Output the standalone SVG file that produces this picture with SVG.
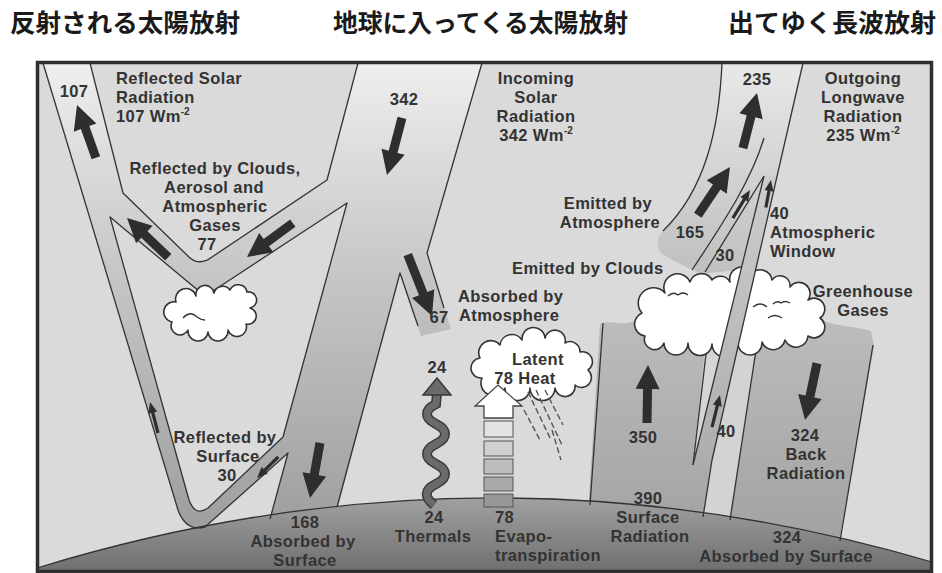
<svg xmlns="http://www.w3.org/2000/svg" width="942" height="573" viewBox="0 0 942 573">
<defs>
  <linearGradient id="gSolar" gradientUnits="userSpaceOnUse" x1="0" y1="64" x2="0" y2="530">
    <stop offset="0" stop-color="#eeeeee"/>
    <stop offset="0.45" stop-color="#c6c6c6"/>
    <stop offset="1" stop-color="#9e9e9e"/>
  </linearGradient>
  <linearGradient id="gOlr" gradientUnits="userSpaceOnUse" x1="0" y1="64" x2="0" y2="270">
    <stop offset="0" stop-color="#e8e8e8"/>
    <stop offset="1" stop-color="#c0c0c0"/>
  </linearGradient>
  <linearGradient id="gWin" gradientUnits="userSpaceOnUse" x1="0" y1="176" x2="0" y2="465">
    <stop offset="0" stop-color="#cdcdcd"/>
    <stop offset="1" stop-color="#adadad"/>
  </linearGradient>
  <linearGradient id="gBlock" gradientUnits="userSpaceOnUse" x1="0" y1="320" x2="0" y2="540">
    <stop offset="0" stop-color="#bcbcbc"/>
    <stop offset="1" stop-color="#a2a2a2"/>
  </linearGradient>
  <linearGradient id="gEarth" gradientUnits="userSpaceOnUse" x1="0" y1="490" x2="0" y2="573">
    <stop offset="0" stop-color="#a6a6a6"/>
    <stop offset="1" stop-color="#6e6e6e"/>
  </linearGradient>
</defs>
<style>
  .edge{fill:none;stroke:#333;stroke-width:1.3;stroke-linejoin:round}
  .arr{fill:#2e2e2e}
  .cloud{fill:#fff;stroke:#333;stroke-width:1.6;stroke-linejoin:round}
  .mark{fill:none;stroke:#333;stroke-width:1.3}
  .lbl{font-family:"Liberation Sans",Arial,sans-serif;font-weight:bold;font-size:16.5px;letter-spacing:0.4px;fill:#333}
  .mid{text-anchor:middle}
  .sup{font-size:10px;letter-spacing:0}
  .ttl{font-family:"Noto Sans CJK JP","Noto Sans CJK SC",sans-serif;font-weight:bold;font-size:25px;fill:#1a1a1a}
  .rain{fill:none;stroke:#555;stroke-width:1.4;stroke-dasharray:6 3}
</style>

<rect width="942" height="573" fill="#fff"/>

<!-- headings -->
<g id="titles">
  <text class="ttl" x="10" y="32" textLength="230" lengthAdjust="spacingAndGlyphs">反射される太陽放射</text>
  <text class="ttl" x="333" y="32" textLength="295" lengthAdjust="spacingAndGlyphs">地球に入ってくる太陽放射</text>
  <text class="ttl" x="728" y="32" textLength="208" lengthAdjust="spacingAndGlyphs">出てゆく長波放射</text>
</g>

<rect id="panel" x="37.5" y="62.5" width="894" height="509" fill="#dadada"/>

<!-- shortwave bands: incoming, reflected, absorbed -->
<g id="solar-bands">
  <path fill="url(#gSolar)" fill-rule="evenodd" d="M43,63 L178,510 Q186,532 205,527 L288,453 L262,548 L327,548 L400,273 L421,336 L451,329 L427,253 L482,63 L358,63 L327,180 L212,257 Q200,266 190,258 L123,193 L90,63 Z M110,217 L194,287 Q204,296 216,289 L347,203 L283,437 L208,508 Q195,517 189,500 Z"/>
</g>

<!-- outgoing longwave band -->
<g id="olr-band">
  <path fill="url(#gOlr)" d="M722,63 L803,63 L756,268 L700,274 C690,268 675,262 662,254 C655,246 657,238 663,231 C705,190 719,130 722,63 Z"/>
</g>

<!-- surface radiation / back radiation block -->
<g id="lw-block">
  <path fill="url(#gBlock)" d="M600,324 C612,319 622,327 634,321 L650,318 L820,320 C840,327 855,326 871,331 L874,346 L838,548 L586,548 Z"/>
  <path fill="#d5d5d5" d="M707,330 L726,330 L693,465 Z"/>
  <path fill="#d3d3d3" d="M742,330 L759,330 L730,520 L703,517 L712,460 Z"/>
</g>

<!-- earth surface -->
<g id="earth">
  <path fill="url(#gEarth)" d="M37,568 Q485,431 932,562 L932,575 L37,575 Z"/>
  <path class="edge" stroke-width="1" d="M37,568 Q485,431 932,562"/>
</g>

<!-- band outlines -->
<g id="outlines">
  <path class="edge" d="M43,63 L178,510 Q186,532 205,527 L288,453 L270,519"/>
  <path class="edge" d="M337,507 L400,273 L418,326"/>
  <path class="edge" d="M444,308 L427,253 L482,63"/>
  <path class="edge" d="M358,63 L327,180 L212,257 Q200,266 190,258 L123,193 L90,63"/>
  <path class="edge" d="M110,217 L194,287 Q204,296 216,289 L347,203 L283,437 L208,508 Q195,517 189,500 Z"/>
  <path class="edge" d="M722,63 C719,130 705,190 663,231"/>
  <path class="edge" d="M764,138 C752,178 728,216 692,270"/>
  <path class="edge" d="M764,176 L705,272"/>
  <path class="edge" d="M758,337 L730,520"/>
  <path class="edge" d="M873,345 L840,541"/>
  <path class="edge" d="M603,323 L590,505"/>
  <path class="edge" d="M708,337 L693,465"/>
</g>

<!-- clouds -->
<g id="cloud-left">
  <path class="cloud" d="M172,322 A9,9 0 0 1 176,302 A10,10 0 0 1 196,296 A9,9 0 0 1 214,293 A9,9 0 0 1 230,290 A9,9 0 0 1 247,292 A8,8 0 0 1 250,308 A8,8 0 0 1 246,324 A9,9 0 0 1 228,330 A10,10 0 0 1 208,332 A10,10 0 0 1 188,330 A8,8 0 0 1 172,322 Z"/>
  <path class="mark" d="M183,318 q7,-8 14,-1 q4,3 8,3"/>
</g>
<g id="cloud-right">
  <path class="cloud" d="M645,336 A12,12 0 0 1 642,313 A14,14 0 0 1 665,293 A13,13 0 0 1 690,282 A12,12 0 0 1 712,280 A11,11 0 0 1 730,282 A12,12 0 0 1 752,273 A12,12 0 0 1 772,280 A10,10 0 0 1 790,287 A10,10 0 0 1 808,300 A10,10 0 0 1 820,318 A10,10 0 0 1 808,336 A12,12 0 0 1 785,340 A12,12 0 0 1 762,342 A12,12 0 0 1 738,344 A12,12 0 0 1 712,344 A12,12 0 0 1 688,343 A12,12 0 0 1 664,343 A10,10 0 0 1 645,336 Z"/>
  <path class="mark" d="M668,296 q5,-5 10,-1 q5,-4 10,0 M753,307 q7,-6 14,0 M773,304 q4,-4 8,-1 q4,-3 9,0 M768,318 q7,-5 14,0"/>
</g>
<g id="cloud-latent">
  <path class="cloud" d="M482,378 A10,10 0 0 1 480,358 A12,12 0 0 1 500,345 A12,12 0 0 1 522,340 A11,11 0 0 1 545,338 A10,10 0 0 1 565,343 A10,10 0 0 1 580,352 A10,10 0 0 1 588,370 A9,9 0 0 1 575,385 A10,10 0 0 1 555,388 A12,12 0 0 1 530,388 A12,12 0 0 1 505,388 A10,10 0 0 1 482,378 Z"/>
  <path class="rain" d="M528,392 L551,440 M536,390 L562,445 M545,390 L563,425 M524,410 L540,440 M552,430 L561,460"/>
</g>

<!-- atmospheric window band -->
<g id="window-band">
  <path fill="url(#gWin)" d="M764,176 L777,176 L712,460 L693,465 Z"/>
  <path class="edge" d="M764,176 L693,465"/>
  <path class="edge" d="M803,63 L712,460 L703,517"/>
</g>

<!-- thermals and evapotranspiration -->
<g id="thermals">
  <path fill="none" stroke="#3a3a3a" stroke-width="10" d="M434,505 C424,497 424,490 436,484 C448,478 448,470 436,464 C424,458 424,450 436,444 C448,438 448,430 436,424 C424,418 424,410 436,404 L437,393"/>
  <path fill="none" stroke="#6a6a6a" stroke-width="7" d="M434,505 C424,497 424,490 436,484 C448,478 448,470 436,464 C424,458 424,450 436,444 C448,438 448,430 436,424 C424,418 424,410 436,404 L437,393"/>
  <path fill="#6a6a6a" stroke="#3a3a3a" stroke-width="1.5" d="M437,378 L451,395 L423,395 Z"/>
</g>
<g id="evapotranspiration">
  <g stroke="#555" stroke-width="1">
    <rect x="484" y="421" width="29" height="16" fill="#e2e2e2"/>
    <rect x="484" y="441" width="29" height="15" fill="#d0d0d0"/>
    <rect x="484" y="459" width="29" height="15" fill="#bdbdbd"/>
    <rect x="484" y="477" width="29" height="14" fill="#a9a9a9"/>
    <rect x="484" y="494" width="29" height="13" fill="#979797"/>
  </g>
  <path fill="#fff" stroke="#444" stroke-width="1.3" d="M498,385 L522,406 L513,406 L513,418 L484,418 L484,406 L475,406 Z"/>
</g>

<!-- flux arrows -->
<g id="connectors">
  <path class="arr" transform="translate(77,105) rotate(-19.7)" d="M0,0 L12,24 L4.5,24 L4.5,56 L-4.5,56 L-4.5,24 L-12,24 Z"/>
  <path class="arr" transform="translate(127,218) rotate(-46.4)" d="M0,0 L12,24 L4.5,24 L4.5,57 L-4.5,57 L-4.5,24 L-12,24 Z"/>
  <path class="arr" transform="translate(247,257) rotate(-126.5)" d="M0,0 L12,24 L4.5,24 L4.5,57 L-4.5,57 L-4.5,24 L-12,24 Z"/>
  <path class="arr" transform="translate(387,175) rotate(-165.3)" d="M0,0 L12,24 L4.5,24 L4.5,59 L-4.5,59 L-4.5,24 L-12,24 Z"/>
  <path class="arr" transform="translate(432,316) rotate(158.4)" d="M0,0 L12,24 L4.5,24 L4.5,66 L-4.5,66 L-4.5,24 L-12,24 Z"/>
  <path class="arr" transform="translate(310,498) rotate(-169.7)" d="M0,0 L12,24 L4.5,24 L4.5,56 L-4.5,56 L-4.5,24 L-12,24 Z"/>
  <path class="arr" transform="translate(757,93) rotate(14.3)" d="M0,0 L12,24 L4.5,24 L4.5,57 L-4.5,57 L-4.5,24 L-12,24 Z"/>
  <path class="arr" transform="translate(730,167) rotate(33.7)" d="M0,0 L12,24 L4.5,24 L4.5,58 L-4.5,58 L-4.5,24 L-12,24 Z"/>
  <path class="arr" transform="translate(648,365) rotate(1)" d="M0,0 L12,24 L4.5,24 L4.5,58 L-4.5,58 L-4.5,24 L-12,24 Z"/>
  <path class="arr" transform="translate(805,420) rotate(-168.1)" d="M0,0 L12,24 L4.5,24 L4.5,58 L-4.5,58 L-4.5,24 L-12,24 Z"/>
  <path class="arr" transform="translate(150,402) rotate(-14.5)" d="M0,0 L4.5,11 L1.6,11 L1.6,32 L-1.6,32 L-1.6,11 L-4.5,11 Z"/>
  <path class="arr" transform="translate(257,478) rotate(-135)" d="M0,0 L4.5,11 L1.6,11 L1.6,30 L-1.6,30 L-1.6,11 L-4.5,11 Z"/>
  <path class="arr" transform="translate(750,190) rotate(31.3)" d="M0,0 L4.5,11 L1.6,11 L1.6,33 L-1.6,33 L-1.6,11 L-4.5,11 Z"/>
  <path class="arr" transform="translate(771,180) rotate(10.5)" d="M0,0 L4.5,11 L1.6,11 L1.6,28 L-1.6,28 L-1.6,11 L-4.5,11 Z"/>
  <path class="arr" transform="translate(720,395) rotate(14)" d="M0,0 L4.5,11 L1.6,11 L1.6,33 L-1.6,33 L-1.6,11 L-4.5,11 Z"/>
</g>

<!-- labels -->
<g id="labels" class="lbl">
  <text class="mid" x="74" y="97">107</text>
  <text x="116" y="84">Reflected Solar</text>
  <text x="116" y="103">Radiation</text>
  <text x="116" y="122">107 Wm<tspan class="sup" dy="-7">-2</tspan></text>

  <text class="mid" x="215" y="174">Reflected by Clouds,</text>
  <text class="mid" x="214" y="193">Aerosol and</text>
  <text class="mid" x="215" y="212">Atmospheric</text>
  <text class="mid" x="215" y="231">Gases</text>
  <text class="mid" x="207" y="250">77</text>

  <text class="mid" x="404" y="105">342</text>
  <text class="mid" x="536" y="84">Incoming</text>
  <text class="mid" x="536" y="103">Solar</text>
  <text class="mid" x="536" y="122">Radiation</text>
  <text class="mid" x="536" y="141">342 Wm<tspan class="sup" dy="-7">-2</tspan></text>

  <text class="mid" x="757" y="85">235</text>
  <text class="mid" x="863" y="84">Outgoing</text>
  <text class="mid" x="863" y="103">Longwave</text>
  <text class="mid" x="863" y="122">Radiation</text>
  <text class="mid" x="863" y="141">235 Wm<tspan class="sup" dy="-7">-2</tspan></text>

  <text class="mid" x="608" y="209">Emitted by</text>
  <text class="mid" x="610" y="228">Atmosphere</text>
  <text class="mid" x="690" y="238">165</text>
  <text x="770" y="219">40</text>
  <text x="770" y="238">Atmospheric</text>
  <text x="770" y="257">Window</text>
  <text class="mid" x="725" y="261">30</text>
  <text x="512" y="274">Emitted by Clouds</text>
  <text class="mid" x="863" y="297">Greenhouse</text>
  <text class="mid" x="863" y="316">Gases</text>

  <text x="458" y="302">Absorbed by</text>
  <text x="459" y="321">Atmosphere</text>
  <text class="mid" x="439" y="323">67</text>

  <text class="mid" x="538" y="365">Latent</text>
  <text class="mid" x="525" y="384">78 Heat</text>
  <text class="mid" x="437" y="373">24</text>

  <text class="mid" x="643" y="443">350</text>
  <text class="mid" x="726" y="437">40</text>
  <text class="mid" x="805" y="441">324</text>
  <text class="mid" x="806" y="460">Back</text>
  <text class="mid" x="806" y="479">Radiation</text>

  <text class="mid" x="225" y="443">Reflected by</text>
  <text class="mid" x="228" y="462">Surface</text>
  <text class="mid" x="227" y="481">30</text>

  <text class="mid" x="648" y="504">390</text>
  <text class="mid" x="648" y="523">Surface</text>
  <text class="mid" x="650" y="542">Radiation</text>
  <text class="mid" x="787" y="543">324</text>
  <text class="mid" x="786" y="562">Absorbed by Surface</text>

  <text class="mid" x="305" y="528">168</text>
  <text class="mid" x="303" y="547">Absorbed by</text>
  <text class="mid" x="305" y="566">Surface</text>
  <text class="mid" x="434" y="523">24</text>
  <text class="mid" x="433" y="542">Thermals</text>
  <text x="495" y="523">78</text>
  <text x="495" y="542">Evapo-</text>
  <text x="495" y="561">transpiration</text>
</g>

<rect id="frame" x="37.5" y="62.5" width="894" height="509" fill="none" stroke="#2f2f2f" stroke-width="3.5"/>
</svg>
